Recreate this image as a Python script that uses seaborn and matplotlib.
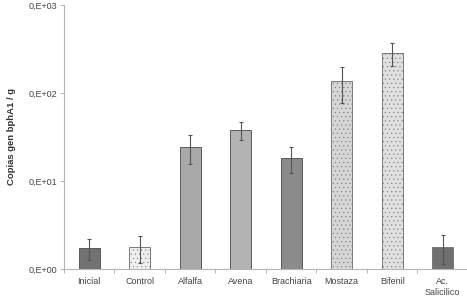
import numpy as np
import pandas as pd
import matplotlib
matplotlib.use("Agg")
import matplotlib.pyplot as plt
import seaborn as sns

# Données (copies du gène bphA1 / g, échelle log)
categories = ["Inicial", "Control", "Alfalfa", "Avena", "Brachiaria",
              "Mostaza", "Bifenil", "Ac.\nSalicilico"]
copias = [1.72, 1.78, 24.5, 38.0, 18.3, 137.0, 285.0, 1.78]
error = [0.45, 0.60, 9.0, 8.5, 6.0, 60.0, 85.0, 0.65]

colores = ["#727272", "#efefef", "#a9a9a9", "#b3b3b3", "#8b8b8b",
           "#d6d6d6", "#e0e0e0", "#6f6f6f"]
motifs = ["", "....", "", "", "", "....", "....", "...."]

etiquettes_y = ["0,E+00", "0,E+01", "0,E+02", "0,E+03"]


def main():
    df = pd.DataFrame({"tratamiento": categories, "copias": copias})

    sns.set_style("white")
    plt.rcParams["font.family"] = ["Liberation Sans", "DejaVu Sans"]
    plt.rcParams["hatch.linewidth"] = 0.3

    fig = plt.figure(figsize=(4.67, 3.05), dpi=100)
    ax = fig.add_axes([0.137, 0.118, 0.865, 0.866])

    sns.barplot(data=df, x="tratamiento", y="copias", hue="tratamiento",
                palette=colores, legend=False, errorbar=None, width=0.42,
                edgecolor="#5a5a5a", linewidth=0.7, ax=ax)

    for barre, motif in zip(ax.patches, motifs):
        if motif:
            barre.set_hatch(motif)
            barre.set_edgecolor("#7a7a7a")

    ax.errorbar(x=np.arange(len(categories)), y=copias, yerr=error,
                fmt="none", ecolor="#555555", elinewidth=0.8,
                capsize=1.5, capthick=0.8)

    ax.set_yscale("log")
    ax.set_ylim(1, 1000)
    ax.set_xlim(-0.5, len(categories) - 0.5)
    ax.set_yticks([1, 10, 100, 1000])
    ax.set_yticklabels(etiquettes_y)
    ax.yaxis.set_minor_locator(matplotlib.ticker.NullLocator())

    ax.set_xticks(np.arange(len(categories)))
    ax.set_xticklabels(categories)
    ax.set_xticks(np.arange(len(categories) + 1) - 0.5, minor=True)
    ax.tick_params(axis="x", which="major", length=0, pad=6,
                   labelsize=6.5, labelcolor="#444444")
    ax.tick_params(axis="x", which="minor", length=3, width=0.6,
                   color="#aaaaaa", direction="out", bottom=True)
    ax.tick_params(axis="y", which="major", length=3, width=0.6,
                   color="#aaaaaa", direction="out", left=True,
                   labelsize=6.5, labelcolor="#444444", pad=2)

    ax.set_xlabel("")
    ax.set_ylabel("Copias gen bphA1 / g", fontsize=6.8, fontweight="bold",
                  color="#333333", labelpad=9)

    for lado in ["top", "right"]:
        ax.spines[lado].set_visible(False)
    for lado in ["left", "bottom"]:
        ax.spines[lado].set_color("#b5b5b5")
        ax.spines[lado].set_linewidth(0.8)

    fig.savefig("out.png", dpi=100)


if __name__ == "__main__":
    main()
